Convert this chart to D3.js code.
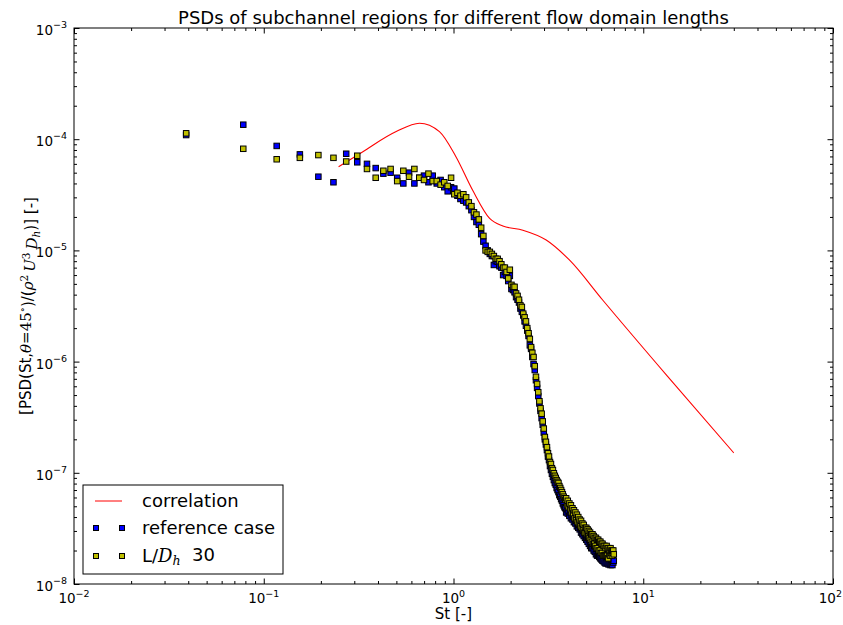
<!DOCTYPE html>
<html>
<head>
<meta charset="utf-8">
<title>PSDs of subchannel regions</title>
<script src="https://d3js.org/d3.v7.min.js"></script>
<style>
	body { margin: 0; background: #fff; }
	text { font-family: "DejaVu Sans", sans-serif; fill: #000; }
</style>
</head>
<body>
<script>
var stValues = [
	0.039, 0.078, 0.117, 0.155, 0.194, 0.233, 0.272, 0.311, 0.350, 0.389,
	0.427, 0.466, 0.505, 0.544, 0.583, 0.622, 0.660, 0.699, 0.738, 0.777,
	0.816, 0.855, 0.894, 0.932, 0.971, 1.010, 1.049, 1.088, 1.127, 1.166,
	1.204, 1.243, 1.282, 1.321, 1.360, 1.399, 1.437, 1.476, 1.515, 1.554,
	1.593, 1.632, 1.671, 1.709, 1.748, 1.787, 1.826, 1.865, 1.904, 1.943,
	1.981, 2.020, 2.059, 2.098, 2.137, 2.176, 2.214, 2.253, 2.292, 2.331,
	2.370, 2.409, 2.448, 2.486, 2.525, 2.564, 2.603, 2.642, 2.681, 2.720,
	2.758, 2.797, 2.836, 2.875, 2.914, 2.953, 2.991, 3.030, 3.069, 3.108,
	3.147, 3.186, 3.225, 3.263, 3.302, 3.341, 3.380, 3.419, 3.458, 3.497,
	3.535, 3.574, 3.613, 3.652, 3.691, 3.730, 3.768, 3.807, 3.846, 3.885,
	3.924, 3.963, 4.002, 4.040, 4.079, 4.118, 4.157, 4.196, 4.235, 4.274,
	4.312, 4.351, 4.390, 4.429, 4.468, 4.507, 4.545, 4.584, 4.623, 4.662,
	4.701, 4.740, 4.779, 4.817, 4.856, 4.895, 4.934, 4.973, 5.012, 5.051,
	5.089, 5.128, 5.167, 5.206, 5.245, 5.284, 5.322, 5.361, 5.400, 5.439,
	5.478, 5.517, 5.556, 5.594, 5.633, 5.672, 5.711, 5.750, 5.789, 5.828,
	5.866, 5.905, 5.944, 5.983, 6.022, 6.061, 6.099, 6.138, 6.177, 6.216,
	6.255, 6.294, 6.333, 6.371, 6.410, 6.449, 6.488, 6.527, 6.566, 6.605,
	6.643, 6.682, 6.721, 6.760, 6.799, 6.838, 6.876, 6.915, 6.954, 6.993
];

// reference case (blue)
var refPsd = [
	1.09e-4, 1.35e-4, 8.7e-5, 7.3e-5, 4.6e-5, 4.1e-5, 7.4e-5, 6.2e-5, 6.0e-5, 5.5e-5,
	4.9e-5, 5.0e-5, 4.5e-5, 4.0e-5, 5.0e-5, 4.0e-5, 4.5e-5, 4.7e-5, 4.1e-5, 4.7e-5,
	4.0e-5, 4.3e-5, 3.7e-5, 3.4e-5, 3.7e-5, 3.6e-5, 3.1e-5, 2.9e-5, 2.8e-5, 2.7e-5,
	2.5e-5, 2.3e-5, 2.0e-5, 1.8e-5, 1.7e-5, 1.4e-5, 1.2e-5, 1.1e-5, 1.0e-5, 9.3e-6,
	8.9e-6, 7.4e-6, 8.0e-6, 7.9e-6, 7.2e-6, 7.0e-6, 6.0e-6, 6.4e-6, 5.9e-6, 5.3e-6,
	5.9e-6, 4.5e-6, 4.4e-6, 4.2e-6, 3.8e-6, 3.6e-6, 3.4e-6, 3.0e-6, 2.8e-6, 2.6e-6,
	2.3e-6, 2.1e-6, 1.9e-6, 1.7e-6, 1.4e-6, 1.3e-6, 1.1e-6, 9.5e-7, 8.4e-7, 6.8e-7,
	5.8e-7, 4.9e-7, 4.2e-7, 3.6e-7, 3.1e-7, 2.7e-7, 2.3e-7, 2.0e-7, 1.8e-7, 1.6e-7,
	1.4e-7, 1.3e-7, 1.15e-7, 1.06e-7, 9.8e-8, 9.2e-8, 8.6e-8, 8.1e-8, 7.8e-8, 7.3e-8,
	7.0e-8, 6.7e-8, 6.3e-8, 6.1e-8, 5.8e-8, 5.6e-8, 5.3e-8, 5.1e-8, 4.9e-8, 4.8e-8,
	4.4e-8, 4.7e-8, 4.3e-8, 4.5e-8, 4.1e-8, 4.4e-8, 3.9e-8, 4.2e-8, 3.8e-8, 4.0e-8,
	3.6e-8, 3.9e-8, 3.5e-8, 3.7e-8, 3.3e-8, 3.5e-8, 3.2e-8, 3.4e-8, 3.1e-8, 3.2e-8,
	2.9e-8, 3.1e-8, 2.8e-8, 3.0e-8, 2.7e-8, 2.9e-8, 2.6e-8, 2.8e-8, 2.5e-8, 2.6e-8,
	2.4e-8, 2.6e-8, 2.3e-8, 2.5e-8, 2.2e-8, 2.4e-8, 2.1e-8, 2.3e-8, 2.1e-8, 2.3e-8,
	2.0e-8, 2.2e-8, 1.95e-8, 2.2e-8, 1.85e-8, 2.1e-8, 1.8e-8, 2.1e-8, 1.8e-8, 2.05e-8,
	1.75e-8, 2.0e-8, 1.7e-8, 2.0e-8, 1.66e-8, 1.95e-8, 1.62e-8, 1.9e-8, 1.6e-8, 1.85e-8,
	1.56e-8, 1.8e-8, 1.53e-8, 1.8e-8, 1.56e-8, 1.75e-8, 1.53e-8, 1.8e-8, 1.5e-8, 1.75e-8,
	1.53e-8, 1.7e-8, 1.48e-8, 1.7e-8, 1.5e-8, 1.66e-8, 1.48e-8, 1.66e-8, 1.56e-8, 1.62e-8
];

// L/Dh 30 (yellow)
var l30Psd = [
	1.13e-4, 8.2e-5, 6.6e-5, 6.8e-5, 7.2e-5, 6.8e-5, 6.3e-5, 7.1e-5, 5.4e-5, 4.5e-5,
	5.2e-5, 5.4e-5, 4.2e-5, 5.2e-5, 4.6e-5, 5.4e-5, 4.5e-5, 4.3e-5, 4.9e-5, 4.2e-5,
	4.2e-5, 3.9e-5, 4.1e-5, 3.8e-5, 4.5e-5, 3.2e-5, 3.3e-5, 3.1e-5, 3.2e-5, 3.0e-5,
	2.7e-5, 2.5e-5, 2.2e-5, 2.1e-5, 1.9e-5, 1.6e-5, 1.35e-5, 1.0e-5, 9.7e-6, 9.7e-6,
	9.3e-6, 8.9e-6, 8.4e-6, 8.4e-6, 8.0e-6, 7.5e-6, 7.0e-6, 7.0e-6, 6.4e-6, 5.6e-6,
	6.7e-6, 4.9e-6, 4.7e-6, 4.7e-6, 4.1e-6, 3.9e-6, 3.6e-6, 3.2e-6, 3.1e-6, 2.7e-6,
	2.5e-6, 2.3e-6, 2.0e-6, 1.8e-6, 1.6e-6, 1.35e-6, 1.2e-6, 1.1e-6, 9.1e-7, 7.3e-7,
	6.3e-7, 5.3e-7, 4.4e-7, 3.8e-7, 3.4e-7, 2.9e-7, 2.5e-7, 2.1e-7, 1.9e-7, 1.7e-7,
	1.5e-7, 1.4e-7, 1.25e-7, 1.2e-7, 1.1e-7, 1.06e-7, 9.9e-8, 9.4e-8, 9.0e-8, 8.6e-8,
	8.3e-8, 8.1e-8, 7.6e-8, 7.3e-8, 7.0e-8, 6.7e-8, 6.4e-8, 6.1e-8, 5.9e-8, 5.7e-8,
	5.9e-8, 5.1e-8, 5.6e-8, 4.9e-8, 5.3e-8, 4.7e-8, 5.1e-8, 4.4e-8, 4.8e-8, 4.3e-8,
	4.6e-8, 3.9e-8, 4.4e-8, 3.8e-8, 4.2e-8, 3.6e-8, 4.0e-8, 3.5e-8, 3.8e-8, 3.3e-8,
	3.7e-8, 3.2e-8, 3.5e-8, 3.1e-8, 3.4e-8, 2.9e-8, 3.2e-8, 2.9e-8, 3.2e-8, 2.8e-8,
	3.1e-8, 2.7e-8, 3.0e-8, 2.6e-8, 2.9e-8, 2.5e-8, 2.8e-8, 2.4e-8, 2.8e-8, 2.3e-8,
	2.7e-8, 2.3e-8, 2.6e-8, 2.2e-8, 2.6e-8, 2.1e-8, 2.5e-8, 2.1e-8, 2.5e-8, 2.0e-8,
	2.4e-8, 2.0e-8, 2.4e-8, 1.9e-8, 2.3e-8, 1.9e-8, 2.3e-8, 1.8e-8, 2.2e-8, 1.8e-8,
	2.2e-8, 1.8e-8, 2.1e-8, 1.8e-8, 2.2e-8, 1.8e-8, 2.1e-8, 1.7e-8, 2.1e-8, 1.85e-8,
	2.0e-8, 1.8e-8, 2.1e-8, 1.9e-8, 2.0e-8, 1.8e-8, 2.0e-8, 1.9e-8, 2.0e-8, 1.85e-8
];

// correlation curve (red)
var corrSt  = [0.248, 0.333, 0.499, 0.662, 0.843, 1.03, 1.26, 1.55, 1.82, 2.32, 3.08, 4.08, 6.11, 13.4, 30];
var corrPsd = [5.66e-5, 7.72e-5, 1.17e-4, 1.39e-4, 1.17e-4, 6.96e-5, 3.49e-5, 1.94e-5, 1.66e-5, 1.52e-5, 1.24e-5, 8.2e-6, 3.58e-6, 7.4e-7, 1.51e-7];

var xTicks = [1e-2, 1e-1, 1e0, 1e1, 1e2];
var xTickExp = ["\u22122", "\u22121", "0", "1", "2"];
var yTicks = [1e-8, 1e-7, 1e-6, 1e-5, 1e-4, 1e-3];
var yTickExp = ["\u22128", "\u22127", "\u22126", "\u22125", "\u22124", "\u22123"];

var width = 843, height = 625;
var pLeft = 74, pRight = 833, pTop = 28, pBottom = 584;

var svg = d3.select('body').append('svg').attr('width', width).attr('height', height);

var xScale = d3.scaleLog().domain([1e-2, 1e2]).range([pLeft, pRight]);
var yScale = d3.scaleLog().domain([1e-8, 1e-3]).range([pBottom, pTop]);

function isMajor(v) { return Math.abs(Math.log10(v) - Math.round(Math.log10(v))) < 1e-6; }
var xMinor = xScale.ticks().filter(function(v){ return !isMajor(v); });
var yMinor = yScale.ticks().filter(function(v){ return !isMajor(v); });

// ticks on all four sides, pointing inward
function addTicks(axis, tx, ty) {
	var g = svg.append('g').attr('transform', 'translate(' + tx + ',' + ty + ')').call(axis);
	g.select('.domain').remove();
	g.selectAll('line').attr('stroke', '#000');
}
addTicks(d3.axisBottom(xScale).tickValues(xTicks).tickSize(-5.5).tickFormat(''), 0, pBottom);
addTicks(d3.axisBottom(xScale).tickValues(xMinor).tickSize(-3).tickFormat(''), 0, pBottom);
addTicks(d3.axisTop(xScale).tickValues(xTicks).tickSize(-5.5).tickFormat(''), 0, pTop);
addTicks(d3.axisTop(xScale).tickValues(xMinor).tickSize(-3).tickFormat(''), 0, pTop);
addTicks(d3.axisLeft(yScale).tickValues(yTicks).tickSize(-5.5).tickFormat(''), pLeft, 0);
addTicks(d3.axisLeft(yScale).tickValues(yMinor).tickSize(-3).tickFormat(''), pLeft, 0);
addTicks(d3.axisRight(yScale).tickValues(yTicks).tickSize(-5.5).tickFormat(''), pRight, 0);
addTicks(d3.axisRight(yScale).tickValues(yMinor).tickSize(-3).tickFormat(''), pRight, 0);

// frame
svg.append('rect').attr('x', pLeft).attr('y', pTop).attr('width', pRight - pLeft).attr('height', pBottom - pTop)
	.attr('fill', 'none').attr('stroke', '#000').attr('stroke-width', 1);

// tick labels 10^n
svg.append('g').selectAll('text').data(xTicks).enter().append('text')
	.attr('x', function(d){ return xScale(d); }).attr('y', pBottom + 19)
	.attr('text-anchor', 'middle').attr('font-size', 13.5)
	.each(function(d, i) {
		var t = d3.select(this);
		t.append('tspan').text('10');
		t.append('tspan').attr('dy', -6.5).attr('font-size', 9.5).text(xTickExp[i]);
		// keep the last label inside the picture
		var w = this.getComputedTextLength();
		if (xScale(d) + w / 2 > width - 1) t.attr('x', width - 1 - w / 2);
	});
svg.append('g').selectAll('text').data(yTicks).enter().append('text')
	.attr('x', pLeft - 7).attr('y', function(d){ return yScale(d) + 7; })
	.attr('text-anchor', 'end').attr('font-size', 13.5)
	.each(function(d, i) {
		var t = d3.select(this);
		t.append('tspan').text('10');
		t.append('tspan').attr('dy', -7).attr('font-size', 9.5).text(yTickExp[i]);
	});

// correlation line
var line = d3.line().x(function(d){ return xScale(d[0]); }).y(function(d){ return yScale(d[1]); }).curve(d3.curveMonotoneX);
svg.append('path').datum(d3.zip(corrSt, corrPsd)).attr('d', line)
	.attr('fill', 'none').attr('stroke', '#ff0000').attr('stroke-width', 1.1);

// square markers
var ms = 5.5;
function drawSeries(vals, color) {
	svg.append('g').selectAll('rect').data(d3.zip(stValues, vals)).enter().append('rect')
		.attr('x', function(d){ return xScale(d[0]) - ms / 2; })
		.attr('y', function(d){ return yScale(d[1]) - ms / 2; })
		.attr('width', ms).attr('height', ms)
		.attr('fill', color).attr('stroke', '#000').attr('stroke-width', 1);
}
drawSeries(refPsd, '#0000ff');
drawSeries(l30Psd, '#bfbf00');

// rich text helper: [text, kind, dy]
function richText(sel, parts) {
	parts.forEach(function(p) {
		var s = sel.append('tspan').text(p[0]);
		if (p[1] == 'i') s.attr('font-family', 'DejaVu Serif').attr('font-style', 'italic');
		if (p[1] == 'm') s.attr('font-family', 'DejaVu Serif');
		if (p[1] == 'sup') s.attr('font-family', 'DejaVu Serif').attr('font-size', '0.7em').attr('dy', '-0.45em');
		if (p[1] == 'sub') s.attr('font-family', 'DejaVu Serif').attr('font-style', 'italic').attr('font-size', '0.7em').attr('dy', '0.25em');
		if (p[2]) s.attr('dy', p[2]);
	});
}

// title and axis labels
svg.append('text').attr('x', (pLeft + pRight) / 2).attr('y', 24).attr('text-anchor', 'middle')
	.attr('font-size', 18).text('PSDs of subchannel regions for different flow domain lengths');
svg.append('text').attr('x', (pLeft + pRight) / 2).attr('y', 619).attr('text-anchor', 'middle')
	.attr('font-size', 15).text('St [-]');

var yLab = svg.append('text').attr('transform', 'translate(31,' + ((pTop + pBottom) / 2) + ') rotate(-90)')
	.attr('text-anchor', 'middle').attr('font-size', 15);
richText(yLab, [
	['[PSD(St,', 'n'], ['θ', 'i'], ['=45', 'm'], ['∘', 'sup'], [')/(', 'n', '0.45em'],
	['ρ', 'i'], ['2', 'sup'], ['\u2009', 'n', '0.45em'], ['U', 'i'], ['3', 'sup'],
	['\u2009', 'n', '0.45em'], ['D', 'i'], ['h', 'sub'], [')] [-]', 'n', '-0.25em']
]);

// legend
var lg = svg.append('g');
lg.append('rect').attr('x', 83).attr('y', 485).attr('width', 200).attr('height', 89)
	.attr('fill', '#fff').attr('stroke', '#000').attr('stroke-width', 1);
lg.append('line').attr('x1', 95).attr('x2', 122).attr('y1', 501).attr('y2', 501)
	.attr('stroke', '#ff0000').attr('stroke-width', 1);
[[528, '#0000ff'], [556, '#bfbf00']].forEach(function(r) {
	[96, 122].forEach(function(cx) {
		lg.append('rect').attr('x', cx - 2.5).attr('y', r[0] - 2.5).attr('width', 5).attr('height', 5)
			.attr('fill', r[1]).attr('stroke', '#000').attr('stroke-width', 1);
	});
});
lg.append('text').attr('x', 142).attr('y', 507).attr('font-size', 18).text('correlation');
lg.append('text').attr('x', 142).attr('y', 534).attr('font-size', 18).text('reference case');
var l3 = lg.append('text').attr('x', 142).attr('y', 562).attr('font-size', 18).attr('xml:space', 'preserve');
richText(l3, [['L/', 'n'], ['D', 'i'], ['h', 'sub'], ['  30', 'n', '-0.25em']]);
</script>
</body>
</html>
